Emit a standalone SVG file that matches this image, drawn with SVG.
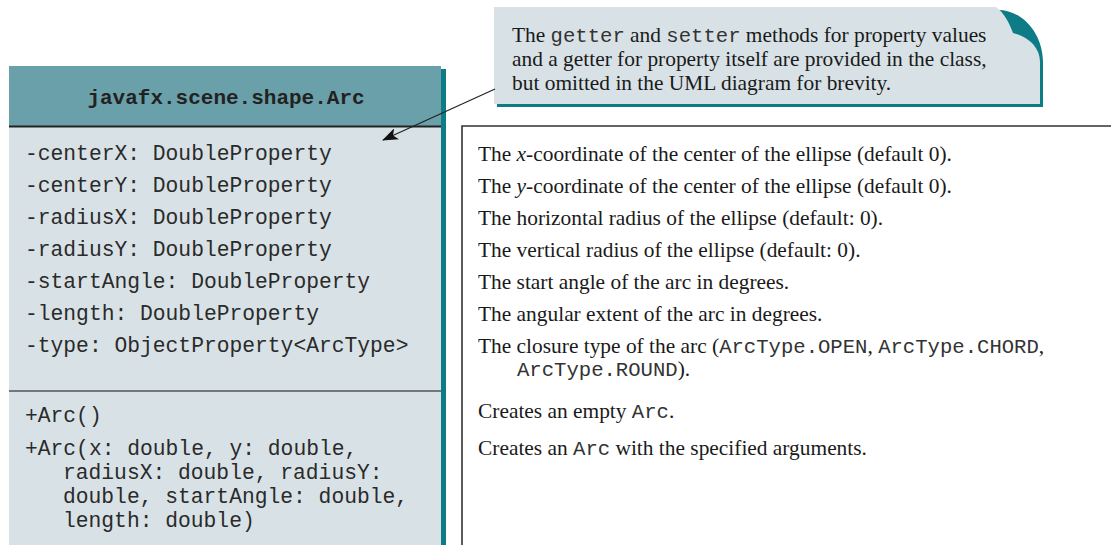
<svg xmlns="http://www.w3.org/2000/svg" width="1111" height="545" viewBox="0 0 1111 545">
<defs>
<style>
.mono{font-family:"Liberation Mono","Courier New",monospace;font-size:21.3px;fill:#2a2a2a;}
.monob{font-family:"Liberation Mono","Courier New",monospace;font-size:21px;font-weight:bold;fill:#222;}
.serif{font-family:"Liberation Serif","Times New Roman",serif;font-size:21.4px;fill:#1a1a1a;}
.sm{font-family:"Liberation Mono","Courier New",monospace;font-size:20.6px;fill:#333;}
.line{stroke:#333;stroke-width:1.6;fill:none;}
</style>
<marker id="arr" markerWidth="16" markerHeight="12" refX="15" refY="6" orient="auto" markerUnits="userSpaceOnUse">
<path d="M0,0 L16,6 L0,12 L4,6 Z" fill="#111"/>
</marker>
</defs>
<rect width="1111" height="545" fill="#fff"/>

<g id="class-arc">
<rect x="13" y="69" width="433" height="480" fill="#0e7c86"/>
<rect x="9" y="66" width="432" height="480" fill="#d8e2e6"/>
<rect x="9" y="66" width="432" height="60" fill="#6aa0a9"/>
<line x1="9" y1="126.5" x2="441" y2="126.5" stroke="#222" stroke-width="1.8"/>
<line x1="9" y1="391" x2="441" y2="391" stroke="#555" stroke-width="1.6"/>
<text class="monob" x="226" y="104" text-anchor="middle">javafx.scene.shape.Arc</text>
<text class="mono" x="25" y="160">-centerX: DoubleProperty</text>
<text class="mono" x="25" y="192">-centerY: DoubleProperty</text>
<text class="mono" x="25" y="224">-radiusX: DoubleProperty</text>
<text class="mono" x="25" y="256">-radiusY: DoubleProperty</text>
<text class="mono" x="25" y="288">-startAngle: DoubleProperty</text>
<text class="mono" x="25" y="320">-length: DoubleProperty</text>
<text class="mono" x="25" y="352">-type: ObjectProperty&lt;ArcType&gt;</text>
<text class="mono" x="25" y="422">+Arc()</text>
<text class="mono" x="25" y="455">+Arc(x: double, y: double,</text>
<text class="mono" x="63" y="479">radiusX: double, radiusY:</text>
<text class="mono" x="63" y="503">double, startAngle: double,</text>
<text class="mono" x="63" y="527">length: double)</text>
</g>

<g id="note">
<path d="M497,10 H995 C1022,8 1043,34 1043,62 V107 H497 Z" fill="#0e7c86"/>
<path d="M494,7 H996 C1004,13 1009,22 1013,33 C1029,37 1040,48 1040,62 V104 H494 Z" fill="#d8e2e6"/>
<text class="serif" x="512" y="42">The <tspan class="sm">getter</tspan> and <tspan class="sm">setter</tspan> methods for property values</text>
<text class="serif" x="512" y="66">and a getter for property itself are provided in the class,</text>
<text class="serif" x="512" y="90">but omitted in the UML diagram for brevity.</text>
</g>

<g id="descriptions">
<path class="line" d="M462,545 V126 H1111"/>
<text class="serif" x="478" y="161">The <tspan font-style="italic">x</tspan>-coordinate of the center of the ellipse (default 0).</text>
<text class="serif" x="478" y="193">The <tspan font-style="italic">y</tspan>-coordinate of the center of the ellipse (default 0).</text>
<text class="serif" x="478" y="225">The horizontal radius of the ellipse (default: 0).</text>
<text class="serif" x="478" y="257">The vertical radius of the ellipse (default: 0).</text>
<text class="serif" x="478" y="289">The start angle of the arc in degrees.</text>
<text class="serif" x="478" y="321">The angular extent of the arc in degrees.</text>
<text class="serif" x="478" y="353">The closure type of the arc (<tspan class="sm">ArcType.OPEN</tspan>, <tspan class="sm">ArcType.CHORD</tspan>,</text>
<text class="serif" x="517" y="376"><tspan class="sm">ArcType.ROUND</tspan>).</text>
<text class="serif" x="478" y="418">Creates an empty <tspan class="sm">Arc</tspan>.</text>
<text class="serif" x="478" y="455">Creates an <tspan class="sm">Arc</tspan> with the specified arguments.</text>
</g>

<g id="connectors">
<line x1="495" y1="89" x2="383" y2="140" stroke="#222" stroke-width="1.2" marker-end="url(#arr)"/>
</g>
</svg>
